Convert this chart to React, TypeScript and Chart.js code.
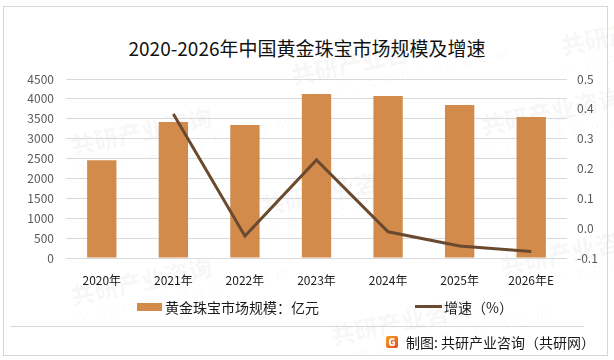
import React, { useEffect, useRef } from "react";
import { Chart, registerables } from "chart.js";

Chart.register(...registerables);

const categories = ["2020年", "2021年", "2022年", "2023年", "2024年", "2025年", "2026年E"];
const marketSize = [2460, 3420, 3345, 4120, 4075, 3845, 3545];
const growthRate = [null, 0.383, -0.026, 0.229, -0.012, -0.06, -0.078];
const leftTicks = { min: 0, max: 4500, step: 500 };
const rightTicks = { min: -0.1, max: 0.5, step: 0.1 };

const titleText = "2020-2026年中国黄金珠宝市场规模及增速";
const barLabel = "黄金珠宝市场规模：亿元";
const lineLabel = "增速（%）";
const footerText = "制图: 共研产业咨询（共研网）";

const FONT = "'Noto Sans CJK SC', 'Noto Sans', sans-serif";
const BAR_COLOR = "#D38B4C";
const LINE_COLOR = "#6A4A2E";

const watermarks = [
  { x: 70, y: 110 }, { x: 290, y: 40 }, { x: 260, y: 170 }, { x: 480, y: 90 },
  { x: 70, y: 260 }, { x: 330, y: 300 }, { x: 500, y: 230 }, { x: 560, y: 10 },
];

export default function App() {
  const ref = useRef<HTMLCanvasElement | null>(null);

  useEffect(() => {
    if (!ref.current) return;
    const chart = new Chart(ref.current, {
      data: {
        labels: categories,
        datasets: [
          {
            type: "line",
            label: lineLabel,
            data: growthRate,
            yAxisID: "y1",
            borderColor: LINE_COLOR,
            backgroundColor: LINE_COLOR,
            borderWidth: 3,
            pointRadius: 0,
            tension: 0,
            order: 0,
          },
          {
            type: "bar",
            label: barLabel,
            data: marketSize,
            yAxisID: "y",
            backgroundColor: BAR_COLOR,
            barPercentage: 0.41,
            categoryPercentage: 1,
            order: 1,
          },
        ],
      } as any,
      options: {
        animation: false,
        responsive: false,
        maintainAspectRatio: false,
        layout: { padding: { top: 79, bottom: 72, left: 0, right: 0 } },
        plugins: {
          legend: { display: false },
          title: { display: false },
          tooltip: { enabled: false },
        },
        scales: {
          x: {
            grid: { display: false, drawTicks: false },
            border: { display: false },
            ticks: { color: "#1a1a1a", font: { family: FONT, size: 12 }, padding: 15, maxRotation: 0 },
            afterFit: (s: any) => { s.height = 30; },
          },
          y: {
            position: "left",
            min: leftTicks.min,
            max: leftTicks.max,
            ticks: {
              stepSize: leftTicks.step,
              color: "#595959",
              font: { family: FONT, size: 12 },
              padding: 12,
              callback: (v: any) => String(Math.round(Number(v))),
            },
            grid: { color: "#d9d9d9", lineWidth: 1, drawTicks: false },
            border: { display: false },
            afterFit: (s: any) => { s.width = 66; },
          },
          y1: {
            position: "right",
            min: rightTicks.min,
            max: rightTicks.max,
            ticks: {
              stepSize: rightTicks.step,
              color: "#595959",
              font: { family: FONT, size: 12 },
              padding: 10,
              callback: (v: any) => {
                const n = Math.round(Number(v) * 10) / 10;
                return (Object.is(n, -0) || Math.abs(n) < 1e-9 ? 0 : n).toFixed(1);
              },
            },
            grid: { display: false, drawTicks: false },
            border: { display: false },
            afterFit: (s: any) => { s.width = 47; },
          },
        },
      } as any,
    });
    return () => chart.destroy();
  }, []);

  return (
    <div style={{ position: "fixed", left: 0, top: 0, width: 614, height: 360, background: "#fff", overflow: "hidden", fontFamily: FONT }}>
      {watermarks.map((w, i) => (
        <div key={i} style={{ position: "absolute", left: w.x, top: w.y, transform: "rotate(-12deg)", color: "rgba(0,0,0,0.035)", fontWeight: 900, fontSize: 24, whiteSpace: "nowrap", lineHeight: 1 }}>
          <div>共研产业咨询</div>
          <div style={{ fontSize: 14, fontWeight: 400, letterSpacing: 9, marginTop: 2 }}>www.gonyn.com</div>
        </div>
      ))}
      <div style={{ position: "absolute", left: 3, top: 6, width: 603, height: 348, border: "1.5px solid #d6d6d6" }} />
      <div style={{ position: "absolute", left: 10, top: 326, width: 574, height: 0, borderTop: "1.5px solid #d6d6d6" }} />
      <div style={{ position: "absolute", left: 0, top: 35, width: 614, textAlign: "center", fontSize: 19, fontWeight: 400, color: "#111", lineHeight: "26px" }}>{titleText}</div>
      <canvas ref={ref} width={614} height={360} style={{ position: "absolute", left: 0, top: 0, width: 614, height: 360 }} />
      <div style={{ position: "absolute", left: 137, top: 303, width: 25, height: 8, background: BAR_COLOR }} />
      <div style={{ position: "absolute", left: 165, top: 297, fontSize: 14, color: "#1a1a1a", lineHeight: "20px", whiteSpace: "nowrap" }}>{barLabel}</div>
      <div style={{ position: "absolute", left: 415, top: 305, width: 27, height: 3, background: LINE_COLOR }} />
      <div style={{ position: "absolute", left: 444, top: 297, fontSize: 14, color: "#1a1a1a", lineHeight: "20px", whiteSpace: "nowrap" }}>{lineLabel}</div>
      <div style={{ position: "absolute", left: 386, top: 336, width: 12, height: 12, background: "linear-gradient(135deg,#f7a21b,#e8462a)", borderRadius: 2, color: "#fff", fontSize: 10, fontWeight: 900, lineHeight: "12px", textAlign: "center" }}>G</div>
      <div style={{ position: "absolute", left: 406, top: 332, fontSize: 14, color: "#1a1a1a", lineHeight: "20px", whiteSpace: "nowrap" }}>{footerText}</div>
    </div>
  );
}
